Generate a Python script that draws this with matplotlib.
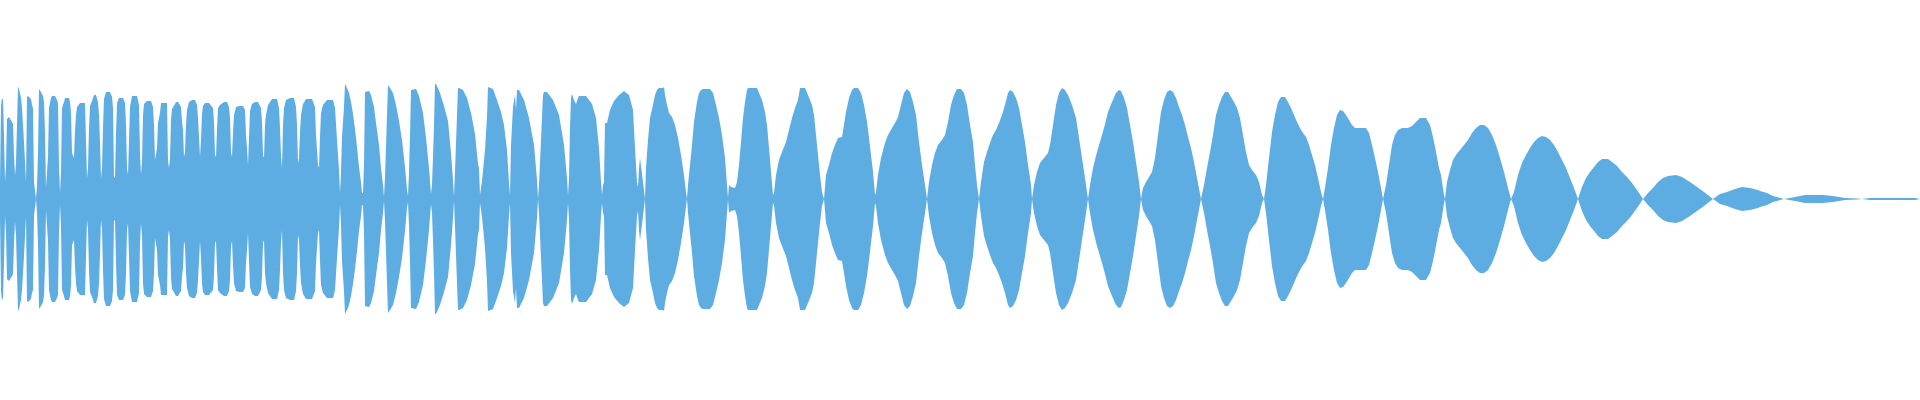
import matplotlib.pyplot as plt

# waveform peak envelope: (position, peak amplitude)
# the shape is mirrored around the centre line
dense = [
    (0, 16), (1, 93), (2, 101), (3, 99), (4, 63), (5, 17), (6, 33), (7, 80), (9, 82), (12, 77),
    (13, 75), (14, 44), (15, 23), (16, 36), (17, 74), (18, 112), (19, 110), (21, 101), (22, 91),
    (23, 74), (24, 57), (25, 37), (26, 17), (27, 102), (28, 103), (31, 100), (32, 94), (33, 91),
    (34, 17), (36, 0), (37, 13), (38, 46), (39, 110), (41, 107), (43, 103), (44, 97), (45, 67),
    (46, 11), (47, 27), (48, 42), (49, 91), (51, 101), (52, 103), (55, 103), (57, 99), (58, 96),
    (59, 34), (60, 6), (61, 27), (62, 91), (64, 97), (65, 101), (69, 101), (70, 97), (71, 87),
    (72, 46), (74, 41), (75, 68), (76, 84), (77, 92), (80, 96), (85, 96), (86, 57), (87, 21),
    (88, 31), (89, 71), (90, 93), (92, 98), (94, 104), (96, 104), (98, 97), (99, 84), (100, 56),
    (101, 21), (102, 30), (103, 71), (104, 100), (106, 107), (110, 107), (112, 102), (113, 91),
    (114, 21), (115, 22), (116, 64), (117, 96), (119, 101), (123, 101), (125, 96), (126, 74),
    (127, 31), (128, 24), (129, 57), (130, 92), (132, 103), (137, 103), (139, 94), (140, 44),
    (141, 24), (142, 37), (143, 84), (144, 95), (147, 98), (151, 98), (153, 92), (154, 74),
    (155, 39), (157, 51), (158, 76), (160, 86), (161, 96), (167, 96), (168, 38), (169, 31),
    (170, 41), (171, 79), (172, 90), (175, 95), (176, 97), (178, 97), (181, 92), (182, 77),
    (183, 69), (184, 42), (185, 47), (186, 74), (187, 89), (189, 97), (192, 99), (195, 99),
    (197, 94), (198, 81), (199, 62), (200, 42), (201, 59), (202, 85), (203, 93), (205, 96),
    (209, 96), (213, 91), (214, 77), (215, 44), (216, 42), (217, 69), (218, 91), (220, 94),
    (224, 97), (227, 97), (229, 92), (230, 81), (231, 47), (232, 42), (233, 66), (234, 84),
    (236, 92), (239, 93), (243, 93), (245, 89), (246, 64), (247, 51), (248, 34), (249, 61),
    (250, 88), (252, 95), (255, 97), (258, 97), (261, 91), (262, 77), (263, 44), (264, 41),
    (265, 74), (266, 84), (268, 94), (272, 100), (277, 100), (279, 91), (280, 71), (281, 44),
    (282, 31), (283, 74), (284, 91), (286, 99), (290, 101), (294, 101), (296, 92), (297, 74),
    (298, 36), (299, 41), (300, 66), (301, 84), (303, 95), (306, 100), (312, 100), (315, 92),
    (316, 64), (318, 34), (319, 31),
]

mid = [
    (320, 62), (321, 86), (323, 94), (327, 99), (333, 99), (335, 91), (337, 59), (339, 29),
    (340, 6), (341, 26), (342, 62), (344, 92), (345, 115), (347, 111), (349, 106), (351, 97),
    (353, 85), (355, 70), (357, 52), (359, 32), (361, 17), (362, 6), (363, 6), (364, 34),
    (365, 107), (369, 108), (371, 104), (374, 92), (376, 76), (379, 54), (381, 31), (383, 14),
    (384, 2), (385, 22), (386, 52), (387, 84), (388, 114), (390, 111), (393, 106), (396, 94),
    (399, 78), (402, 59), (405, 32), (407, 9), (408, 3), (409, 26), (410, 62), (411, 109),
    (416, 110), (419, 103), (423, 86), (426, 61), (429, 31), (431, 5), (432, 14), (433, 42),
    (434, 74), (435, 115), (436, 115), (440, 106), (444, 93), (448, 78), (451, 46), (453, 19),
    (454, 2), (455, 27), (457, 84), (458, 111), (459, 111), (463, 109), (467, 101), (471, 86),
    (475, 65), (478, 35), (479, 31), (480, 4), (482, 18), (485, 49), (487, 82), (488, 112),
    (493, 110), (497, 99), (501, 87), (504, 74), (507, 49), (509, 16), (510, 4), (511, 54),
    (513, 92), (515, 104), (516, 89), (517, 109), (519, 109), (524, 99), (529, 81), (534, 54),
    (537, 19), (538, 0), (539, 14), (541, 59), (543, 104), (544, 107), (547, 107), (553, 99),
    (559, 84), (564, 54), (567, 21), (568, 4), (569, 20), (570, 71), (571, 101), (572, 105),
    (574, 99), (576, 95), (578, 101), (579, 103), (586, 103), (592, 95), (596, 81), (599, 51),
    (601, 17), (602, 4), (603, 14), (604, 17), (605, 76), (607, 76), (610, 89), (614, 98),
    (619, 104), (624, 108), (629, 104), (633, 89), (635, 51), (637, 17), (638, 12), (639, 31),
]

wide = [
    (640, 41), (643, 17), (645, 0), (646, 31), (648, 59), (650, 81), (653, 94), (655, 104),
    (657, 109), (659, 111), (663, 111), (664, 112), (665, 104), (667, 94), (669, 86), (672, 82),
    (675, 74), (678, 61), (681, 44), (684, 24), (686, 7), (687, 0), (688, 14), (690, 34),
    (692, 54), (694, 77), (697, 97), (699, 106), (701, 109), (703, 110), (710, 110), (713, 106),
    (716, 94), (719, 81), (722, 64), (725, 41), (727, 14), (728, 1), (729, 14), (731, 12),
    (735, 11), (737, 17), (739, 34), (741, 57), (743, 81), (745, 97), (747, 109), (748, 111),
    (757, 111), (759, 106), (762, 99), (765, 87), (767, 74), (769, 51), (771, 27), (773, 4),
    (774, 6), (776, 24), (779, 39), (782, 47), (786, 57), (789, 69), (792, 81), (795, 91),
    (798, 99), (800, 111), (805, 111), (808, 104), (812, 94), (814, 84), (816, 64), (818, 44),
    (820, 24), (822, 7), (824, 0), (826, 24), (829, 34), (832, 46), (835, 54), (838, 61),
    (842, 62), (844, 74), (846, 87), (849, 101), (852, 109), (854, 111), (858, 111), (861, 106),
    (864, 94), (867, 77), (869, 61), (871, 44), (873, 27), (875, 4), (876, 7), (878, 24),
    (881, 41), (885, 56), (888, 64), (892, 71), (895, 76), (898, 82), (901, 94), (904, 106),
    (907, 110), (910, 107), (913, 97), (916, 84), (919, 57), (922, 34), (925, 14), (927, 0),
    (929, 17), (932, 34), (935, 46), (938, 54), (942, 59), (945, 64), (948, 77), (951, 94),
    (954, 104), (957, 110), (961, 110), (964, 106), (967, 94), (970, 74), (973, 57), (975, 34),
    (977, 14), (979, 0), (981, 17), (984, 37), (987, 47), (990, 56), (993, 64), (996, 69),
    (999, 76), (1002, 84), (1005, 94), (1008, 106), (1010, 109), (1013, 107), (1016, 101),
    (1019, 91), (1022, 74), (1025, 57), (1028, 34), (1031, 14), (1032, 0), (1034, 14),
    (1037, 27), (1040, 36), (1044, 41), (1048, 46), (1050, 54), (1053, 74), (1056, 94),
    (1059, 106), (1062, 111), (1065, 109), (1068, 104), (1072, 94), (1076, 81), (1079, 61),
    (1082, 41), (1085, 21), (1088, 0), (1090, 14), (1093, 31), (1097, 47), (1100, 57),
    (1104, 71), (1108, 87), (1112, 97), (1116, 106), (1119, 109), (1121, 108), (1124, 101),
    (1127, 91), (1130, 74), (1133, 57), (1136, 37), (1139, 17), (1141, 0), (1143, 11),
    (1146, 17), (1149, 22), (1152, 27), (1155, 41), (1158, 64), (1161, 87), (1164, 99),
    (1167, 107), (1170, 109), (1173, 107), (1176, 101), (1179, 92), (1182, 84), (1185, 74),
    (1188, 62), (1191, 51), (1194, 37), (1197, 21), (1201, 0), (1204, 14), (1207, 31),
    (1210, 47), (1213, 64), (1216, 84), (1219, 94), (1222, 102), (1225, 107), (1228, 107),
    (1231, 102), (1234, 97), (1237, 91), (1240, 81), (1243, 64), (1246, 47), (1249, 34),
    (1252, 29), (1256, 24), (1259, 17), (1262, 4), (1264, 0), (1266, 14), (1269, 41),
    (1272, 67), (1275, 84), (1278, 97),
]

tail = [
    (1281, 102), (1285, 102), (1288, 97), (1291, 91), (1294, 84), (1297, 77), (1300, 71),
    (1303, 66), (1306, 62), (1309, 54), (1312, 44), (1315, 34), (1318, 21), (1321, 7), (1323, 0),
    (1325, 11), (1328, 31), (1331, 54), (1334, 71), (1337, 84), (1340, 89), (1343, 88),
    (1346, 84), (1349, 79), (1352, 74), (1355, 71), (1366, 71), (1369, 66), (1372, 54),
    (1375, 41), (1378, 27), (1381, 11), (1383, 0), (1386, 14), (1389, 34), (1392, 54),
    (1395, 64), (1398, 69), (1402, 71), (1408, 71), (1412, 73), (1416, 77), (1420, 81),
    (1426, 81), (1430, 74), (1433, 62), (1436, 47), (1439, 31), (1441, 24), (1444, 4), (1445, 0),
    (1447, 17), (1450, 29), (1453, 39), (1456, 44), (1460, 49), (1464, 54), (1468, 59),
    (1472, 66), (1476, 71), (1480, 74), (1484, 74), (1488, 71), (1492, 64), (1496, 54),
    (1500, 41), (1504, 27), (1508, 11), (1511, 0), (1514, 7), (1518, 24), (1522, 36), (1526, 44),
    (1530, 51), (1534, 57), (1538, 61), (1542, 63), (1546, 62), (1550, 59), (1554, 54),
    (1558, 47), (1562, 39), (1566, 31), (1570, 21), (1574, 11), (1578, 0), (1582, 12),
    (1586, 21), (1590, 27), (1594, 32), (1598, 37), (1602, 40), (1608, 40), (1612, 37),
    (1617, 33), (1622, 27), (1627, 22), (1632, 16), (1637, 9), (1643, 0), (1648, 6), (1653, 11),
    (1658, 17), (1663, 21), (1668, 23), (1676, 24), (1682, 22), (1690, 17), (1697, 12),
    (1704, 7), (1713, 0), (1720, 5), (1727, 7), (1735, 10), (1742, 12), (1750, 11), (1758, 9),
    (1760, 8), (1767, 6), (1773, 3), (1784, 0), (1795, 2), (1805, 4), (1823, 4), (1833, 3),
    (1845, 1), (1857, 0.5), (1862, 0), (1870, 1), (1915, 1), (1920, 0),
]

WAVE_COLOR = "#5DADE2"


def main():
    points = dense + mid + wide + tail
    pos = [p for p, _ in points]
    amp = [a for _, a in points]
    neg = [-a for a in amp]

    fig = plt.figure(figsize=(19.2, 4), dpi=100)
    ax = fig.add_axes([0, 0, 1, 1])
    ax.fill_between(pos, neg, amp, color=WAVE_COLOR, linewidth=0)
    ax.set_xlim(0, 1920)
    ax.set_ylim(-201, 199)
    ax.axis("off")

    fig.savefig("out.png", dpi=100, facecolor="white")
    plt.close(fig)


if __name__ == "__main__":
    main()
